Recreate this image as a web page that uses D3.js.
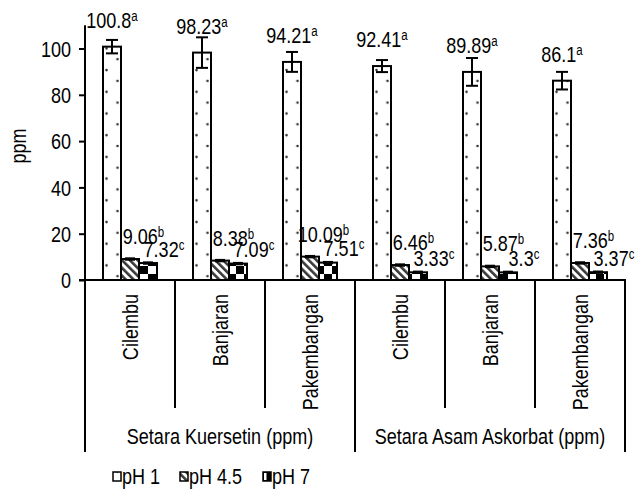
<!DOCTYPE html>
<html><head><meta charset="utf-8">
<script src="https://cdn.jsdelivr.net/npm/d3@7"></script>
<style>body{margin:0;background:#fff}svg{display:block}</style>
</head><body>
<svg id="chart" width="635" height="489"></svg>
<script>
// ---------- data ----------
const groups = ["Setara Kuersetin (ppm)", "Setara Asam Askorbat (ppm)"];
const locations = ["Cilembu", "Banjaran", "Pakembangan"];
const series = ["pH 1", "pH 4.5", "pH 7"];
const ph1 = [100.8, 98.23, 94.21, 92.41, 89.89, 86.1];
const ph45 = [9.06, 8.38, 10.09, 6.46, 5.87, 7.36];
const ph7 = [7.32, 7.09, 7.51, 3.33, 3.3, 3.37];
const ph1Err = [2.9, 6.6, 4.3, 2.6, 6.0, 3.8];
const ph45Err = [0.3, 0.3, 0.3, 0.3, 0.3, 0.3];
const ph7Err = [0.3, 0.3, 0.3, 0.3, 0.3, 0.3];
const ph1Letter = ["a", "a", "a", "a", "a", "a"];
const ph45Letter = ["b", "b", "b", "b", "b", "b"];
const ph7Letter = ["c", "c", "c", "c", "c", "c"];
const yTicks = [0, 20, 40, 60, 80, 100];
const yMax = 110;

// ---------- font detection ----------
function hasFont(name) {
  const c = document.createElement("canvas").getContext("2d");
  const s = "100.8 Setara Kuersetin";
  c.font = "40px monospace"; const a = c.measureText(s).width;
  c.font = `40px '${name}', monospace`; const b = c.measureText(s).width;
  c.font = "40px serif"; const a2 = c.measureText(s).width;
  c.font = `40px '${name}', serif`; const b2 = c.measureText(s).width;
  return a !== b || a2 !== b2;
}
let FONT = "'Liberation Sans Narrow', 'Arial Narrow', sans-serif";
let SX = 1;
if (!hasFont("Liberation Sans Narrow") && !hasFont("Arial Narrow")) {
  FONT = "'Liberation Sans', Arial, sans-serif"; SX = 0.82;
}
const FS = 22;

// ---------- layout ----------
const svg = d3.select("#chart");
const left = 85, right = 625, base = 280;
const y = d3.scaleLinear().domain([0, yMax]).range([base, base - yMax * 2.315]);
const cats = d3.range(groups.length * locations.length);
const x0 = d3.scaleBand().domain(cats).range([left, right]).padding(0);
const x1 = d3.scaleBand().domain(series).range([0, x0.bandwidth()]).paddingInner(0).paddingOuter(1);

function place(sel, px, py, rot) {
  sel.attr("transform", `translate(${px},${py})` + (rot ? ` rotate(${rot})` : "") + (SX !== 1 ? ` scale(${SX},1)` : ""));
  return sel;
}

// ---------- patterns ----------
const defs = svg.append("defs");
const pDots = defs.append("pattern").attr("id", "pDots").attr("patternUnits", "userSpaceOnUse")
  .attr("x", left + x1("pH 1")).attr("y", 0).attr("width", 22.5).attr("height", 21.7);
pDots.append("rect").attr("width", 22.5).attr("height", 21.7).attr("fill", "#fff");
pDots.append("circle").attr("cx", 3.5).attr("cy", 5).attr("r", 1.3).attr("fill", "#333");
pDots.append("circle").attr("cx", 14.5).attr("cy", 15.8).attr("r", 1.3).attr("fill", "#333");

const pDiag = defs.append("pattern").attr("id", "pDiag").attr("patternUnits", "userSpaceOnUse")
  .attr("width", 5.5).attr("height", 5.5).attr("patternTransform", "rotate(-45)");
pDiag.append("rect").attr("width", 5.5).attr("height", 5.5).attr("fill", "#fff");
pDiag.append("rect").attr("width", 2.6).attr("height", 5.5).attr("fill", "#3a3a3a");

const pChk = defs.append("pattern").attr("id", "pChk").attr("patternUnits", "userSpaceOnUse")
  .attr("x", left + x1("pH 7") + 1).attr("y", 2).attr("width", 16).attr("height", 16);
pChk.append("rect").attr("width", 16).attr("height", 16).attr("fill", "#fff");
pChk.append("rect").attr("x", 8).attr("y", 0).attr("width", 8).attr("height", 8).attr("fill", "#000");
pChk.append("rect").attr("x", 0).attr("y", 8).attr("width", 8).attr("height", 8).attr("fill", "#000");

const fills = { "pH 1": "url(#pDots)", "pH 4.5": "url(#pDiag)", "pH 7": "url(#pChk)" };
const vals = { "pH 1": ph1, "pH 4.5": ph45, "pH 7": ph7 };
const errs = { "pH 1": ph1Err, "pH 4.5": ph45Err, "pH 7": ph7Err };
const letters = { "pH 1": ph1Letter, "pH 4.5": ph45Letter, "pH 7": ph7Letter };
// label placement style (offset from bar centre / bar top)
const labDx = { "pH 1": 0, "pH 4.5": 13.5, "pH 7": 16 };
const labDy = { "pH 1": -19, "pH 4.5": -15, "pH 7": -6.5 };

// ---------- axes ----------
const yAxis = d3.axisLeft(y).tickValues(yTicks).tickSize(6).tickSizeOuter(0).tickFormat(d3.format("d"));
const ya = svg.append("g").attr("transform", `translate(${left},0)`).call(yAxis);
ya.select(".domain").remove();
ya.selectAll(".tick line").attr("stroke", "#000").attr("stroke-width", 2);
ya.selectAll(".tick text").each(function (d) {
  const t = d3.select(this);
  t.attr("x", null).attr("dy", null).attr("font-family", FONT).attr("font-size", FS)
    .attr("fill", "#000").attr("text-anchor", "end").attr("dominant-baseline", "central");
  place(t, -14, 0, 0);
});
ya.attr("font-family", null).attr("font-size", null);

const axisG = svg.append("g").attr("stroke", "#000").attr("stroke-width", 2).attr("fill", "none");
axisG.append("line").attr("x1", left).attr("x2", left).attr("y1", y(yMax)).attr("y2", 452);
axisG.append("line").attr("x1", left - 6).attr("x2", right + 1).attr("y1", base).attr("y2", base);
cats.forEach(i => {
  const xr = x0(i) + x0.bandwidth();
  const isGroupEnd = (i + 1) % locations.length === 0;
  axisG.append("line").attr("x1", xr).attr("x2", xr).attr("y1", base).attr("y2", isGroupEnd ? 452 : 408);
});

// category labels
cats.forEach(i => {
  const t = svg.append("text").text(locations[i % locations.length])
    .attr("font-family", FONT).attr("font-size", FS).attr("text-anchor", "end").attr("fill", "#000");
  place(t, x0(i) + x0.bandwidth() / 2 + 8, 294, -90);
});
groups.forEach((gName, gi) => {
  const xa = x0(gi * locations.length), xb = x0((gi + 1) * locations.length - 1) + x0.bandwidth();
  const t = svg.append("text").text(gName).attr("font-family", FONT).attr("font-size", FS)
    .attr("text-anchor", "middle").attr("fill", "#000");
  place(t, (xa + xb) / 2, 444, 0);
});

// y title
place(svg.append("text").text("ppm").attr("font-family", FONT).attr("font-size", FS)
  .attr("text-anchor", "middle").attr("fill", "#000"), 26, 146, -90);

// ---------- bars ----------
const barsG = svg.append("g");
series.forEach(s => {
  const v = vals[s];
  cats.forEach(i => {
    const bx = x0(i) + x1(s), bw = x1.bandwidth();
    barsG.append("rect").attr("x", bx).attr("y", y(v[i])).attr("width", bw).attr("height", y(0) - y(v[i]))
      .attr("fill", fills[s]).attr("stroke", "#000").attr("stroke-width", 2);
  });
});
// error bars
const errG = svg.append("g").attr("stroke", "#000").attr("stroke-width", 2);
series.forEach(s => {
  const v = vals[s], e = errs[s];
  cats.forEach(i => {
    const cx = x0(i) + x1(s) + x1.bandwidth() / 2;
    const hw = s === "pH 1" ? 6 : 5;
    errG.append("line").attr("x1", cx).attr("x2", cx).attr("y1", y(v[i] + e[i])).attr("y2", y(v[i] - e[i]));
    errG.append("line").attr("x1", cx - hw).attr("x2", cx + hw).attr("y1", y(v[i] + e[i])).attr("y2", y(v[i] + e[i]));
    errG.append("line").attr("x1", cx - hw).attr("x2", cx + hw).attr("y1", y(v[i] - e[i])).attr("y2", y(v[i] - e[i]));
  });
});
// data labels (centred on measured width, value + superscript letter)
series.forEach(s => {
  const v = vals[s];
  cats.forEach(i => {
    const cx = x0(i) + x1(s) + x1.bandwidth() / 2;
    const t = svg.append("text").attr("font-family", FONT).attr("font-size", FS)
      .attr("text-anchor", "start").attr("fill", "#000");
    t.append("tspan").attr("fill", "#000").text(String(v[i]));
    t.append("tspan").attr("fill", "#000").attr("font-size", 14).attr("dy", -7).text(letters[s][i]);
    const w = t.node().getComputedTextLength() * SX;
    place(t, cx + labDx[s] - w / 2, y(v[i]) + labDy[s], 0);
  });
});

// ---------- legend ----------
const legX = [113, 180, 263];
series.forEach((s, k) => {
  svg.append("rect").attr("x", legX[k]).attr("y", 472).attr("width", 8).attr("height", 9)
    .attr("fill", s === "pH 7" ? "#000" : fills[s]).attr("stroke", "#000").attr("stroke-width", 1.5);
  if (s === "pH 7") svg.append("rect").attr("x", legX[k] + 1).attr("y", 473).attr("width", 2.5).attr("height", 7).attr("fill", "#fff");
  place(svg.append("text").text(s).attr("font-family", FONT).attr("font-size", FS).attr("fill", "#000"),
    legX[k] + 9, 484, 0);
});
</script>
</body></html>
